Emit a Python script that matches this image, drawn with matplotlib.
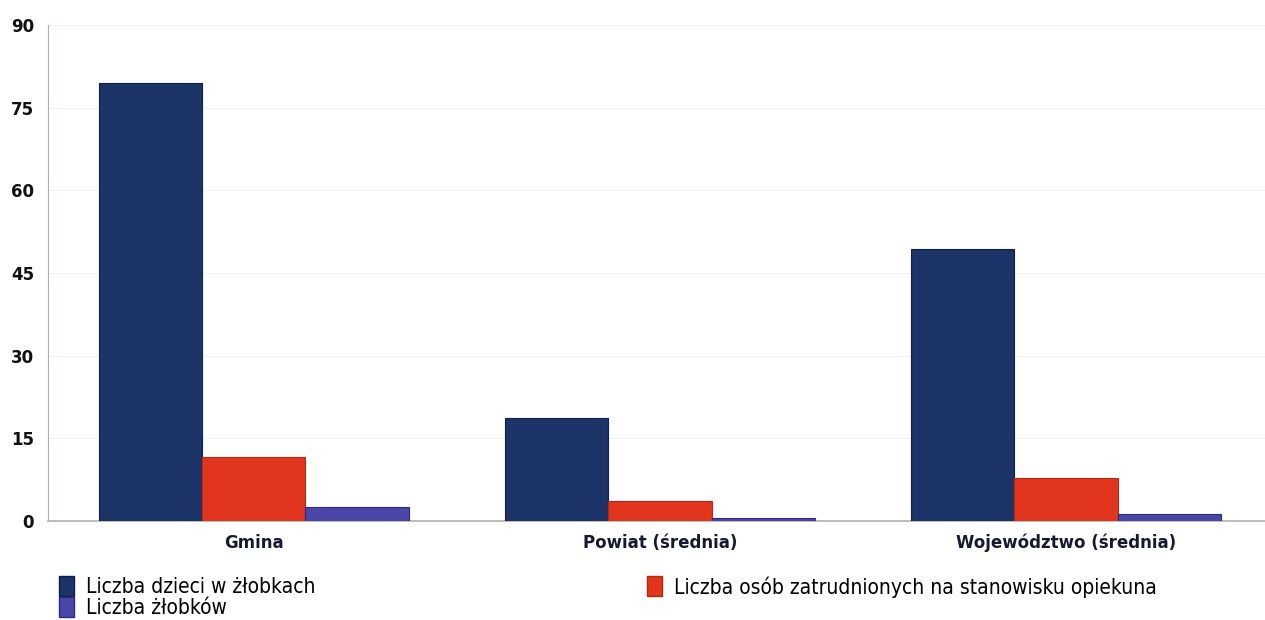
import matplotlib

matplotlib.use("Agg")
import matplotlib.pyplot as plt
import numpy as np
from matplotlib.patches import Patch

categories = ["Gmina", "Powiat (średnia)", "Województwo (średnia)"]
series_names = [
    "Liczba dzieci w żłobkach",
    "Liczba osób zatrudnionych na stanowisku opiekuna",
    "Liczba żłobków",
]
dzieci = [79.5, 18.7, 49.4]
opiekunowie = [11.6, 3.7, 7.8]
zlobki = [2.6, 0.5, 1.3]
y_ticks = [0, 15, 30, 45, 60, 75, 90]

colors = ["#1c3468", "#e2351e", "#4b47a8"]
edge_colors = ["#0f1f45", "#b52812", "#2e2a80"]

fig = plt.figure(figsize=(12.65, 6.2), dpi=100)
ax = fig.add_axes([48 / 1265, 1 - 521 / 620, 1 - 48 / 1265, 496 / 620])

x = np.arange(len(categories))
width = 0.254
for i, vals in enumerate([dzieci, opiekunowie, zlobki]):
    ax.bar(x + (i - 1) * width, vals, width, color=colors[i],
           edgecolor=edge_colors[i], linewidth=0.8, zorder=3)

ax.set_xlim(-0.507, 2.49)
ax.set_ylim(0, 90)
ax.set_yticks(y_ticks)
ax.set_xticks(x)
ax.set_xticklabels(categories, fontsize=12, fontweight="bold", color="#141a33")
ax.tick_params(axis="y", labelsize=12, length=0, pad=10)
for lbl in ax.get_yticklabels():
    lbl.set_fontweight("bold")
    lbl.set_color("#111111")
ax.tick_params(axis="x", length=0, pad=9)

ax.yaxis.grid(True, color="#f2f2f4", linewidth=0.8, zorder=0)
for side in ["top", "right"]:
    ax.spines[side].set_visible(False)
ax.spines["left"].set_color("#9fb0c8")
ax.spines["bottom"].set_color("#b0b0b0")
ax.spines["bottom"].set_linewidth(1.2)

handles = [Patch(facecolor=c, edgecolor=e) for c, e in zip(colors, edge_colors)]
legend_font = {"family": "DejaVu Sans", "size": 15, "stretch": "condensed"}
fig.legend([handles[0], handles[2]], [series_names[0], series_names[2]],
           loc="upper left", bbox_to_anchor=(59 / 1265, 1 - 576 / 620),
           frameon=False, prop=legend_font, handlelength=0.7, handleheight=1.1,
           handletextpad=0.6, labelspacing=0.0, borderaxespad=0, borderpad=0)
fig.legend([handles[1]], [series_names[1]],
           loc="upper left", bbox_to_anchor=(647 / 1265, 1 - 576 / 620),
           frameon=False, prop=legend_font, handlelength=0.7, handleheight=1.1,
           handletextpad=0.6, borderaxespad=0, borderpad=0)

fig.savefig("out.png", dpi=100)
